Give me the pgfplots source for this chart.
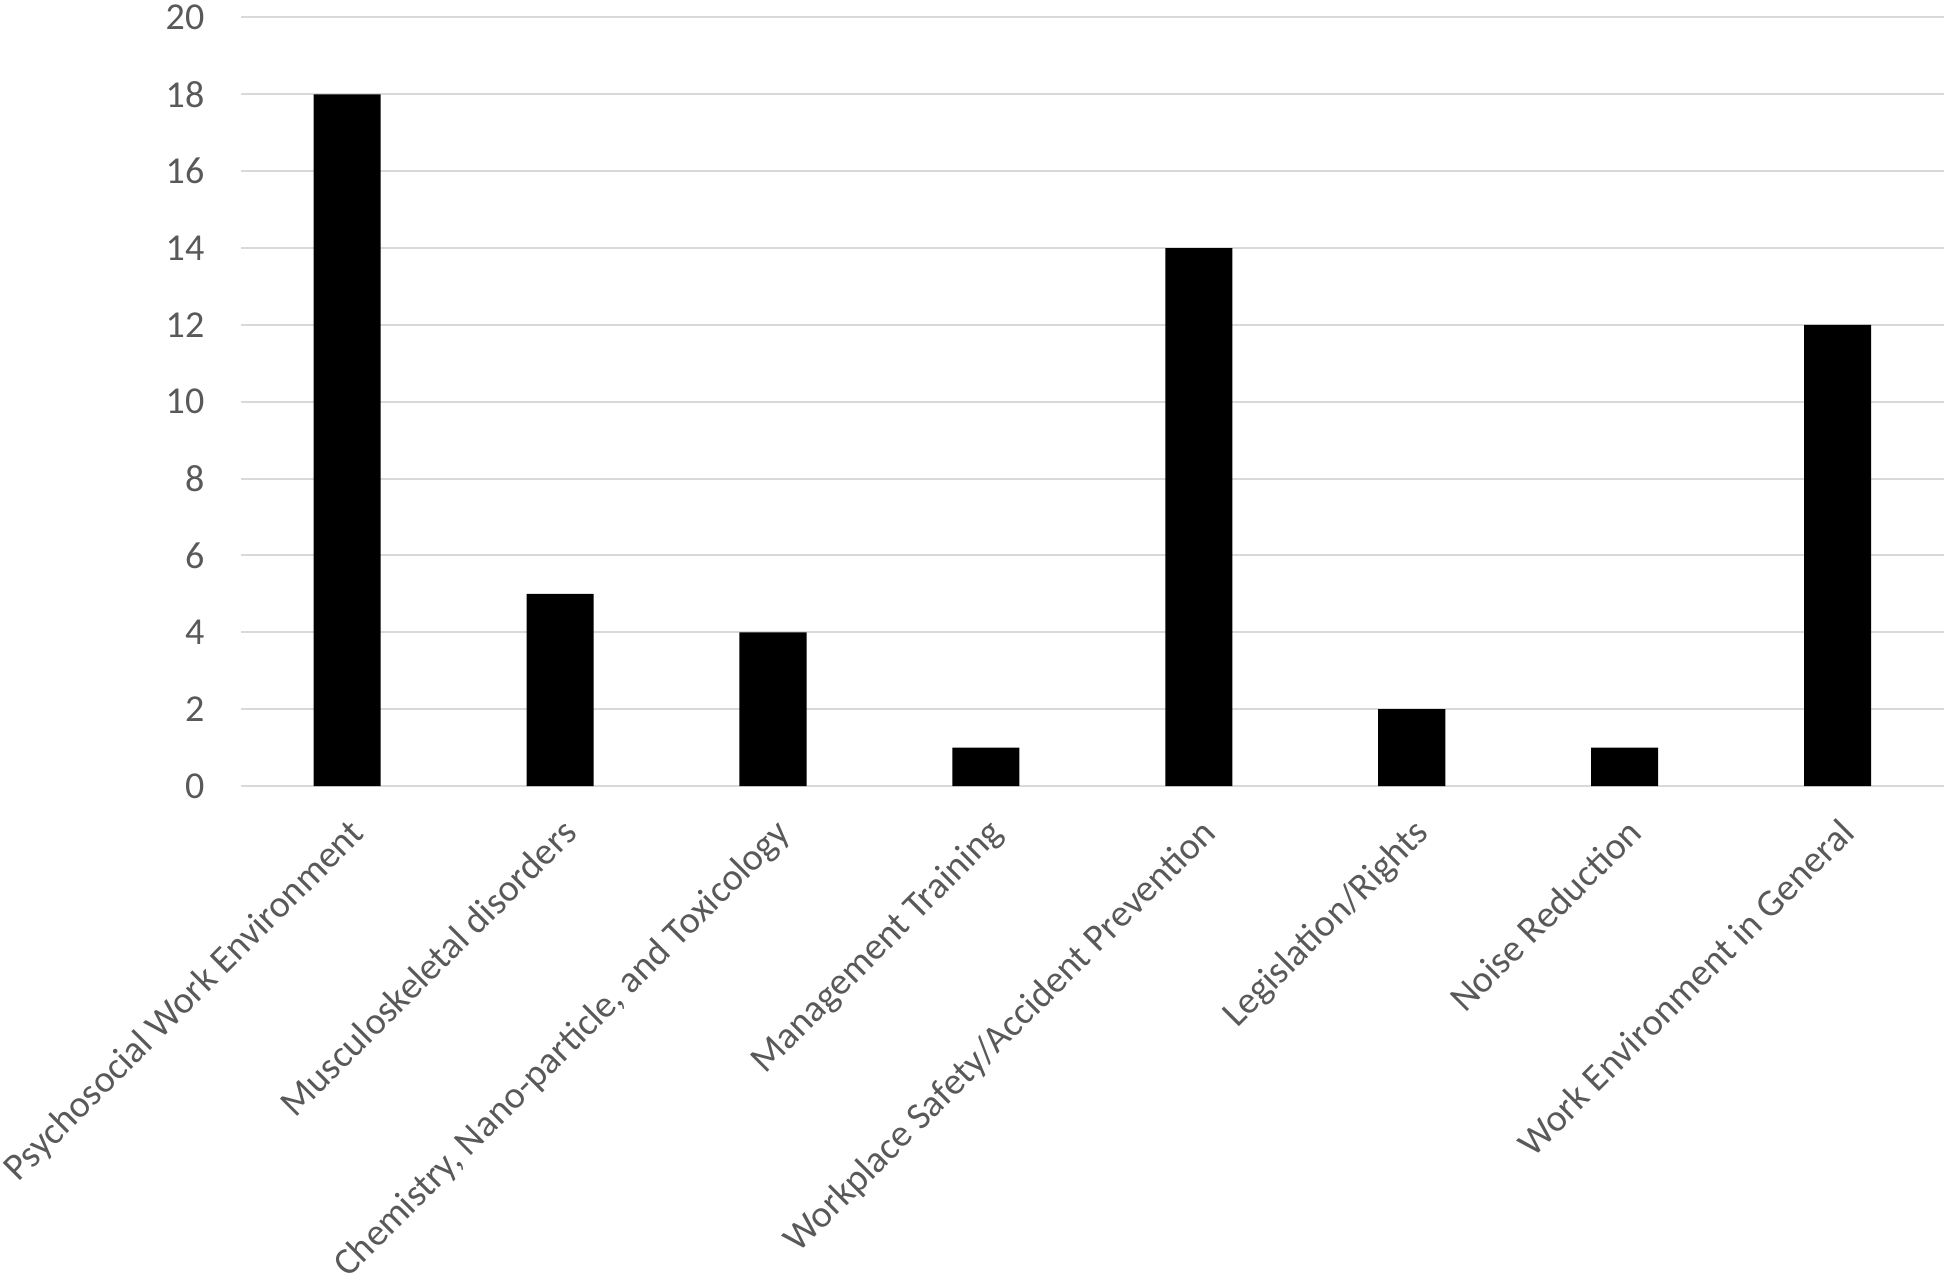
\documentclass[border={0pt 0pt 3.5pt 2.5pt}]{standalone}
\usepackage{pgfplots}
\pgfplotsset{compat=1.18}
\usepackage{fontspec}
\setmainfont{Carlito}
\definecolor{txtgray}{RGB}{89,89,89}
\definecolor{gridgray}{RGB}{217,217,217}
\begin{document}
\begin{tikzpicture}
\begin{axis}[
    scale only axis,
    width=851pt, height=384pt,
    xmin=-0.5, xmax=7.5,
    ymin=0, ymax=20,
    ytick={0,2,...,20},
    xtick={0,...,7},
    xticklabels={Psychosocial Work Environment,Musculoskeletal disorders,{Chemistry, Nano-particle, and Toxicology},Management Training,Workplace Safety/Accident Prevention,Legislation/Rights,Noise Reduction,Work Environment in General},
    ymajorgrids=true,
    grid style={gridgray, line width=1pt},
    axis line style={draw=none},
    major tick length=0pt,
    tick label style={font=\fontsize{19}{22}\selectfont, text=txtgray},
    /pgf/number format/assume math mode=true,
    yticklabel style={inner sep=0pt, xshift=-18pt},
    xticklabel style={anchor=north east, inner sep=0pt, xshift=0pt, yshift=-15pt, rotate=45},
    clip=false,
]
\addplot[ybar, bar width=33.5pt, fill=black, draw=none] coordinates {
    (0,18) (1,5) (2,4) (3,1) (4,14) (5,2) (6,1) (7,12)
};
\end{axis}
\end{tikzpicture}
\end{document}
